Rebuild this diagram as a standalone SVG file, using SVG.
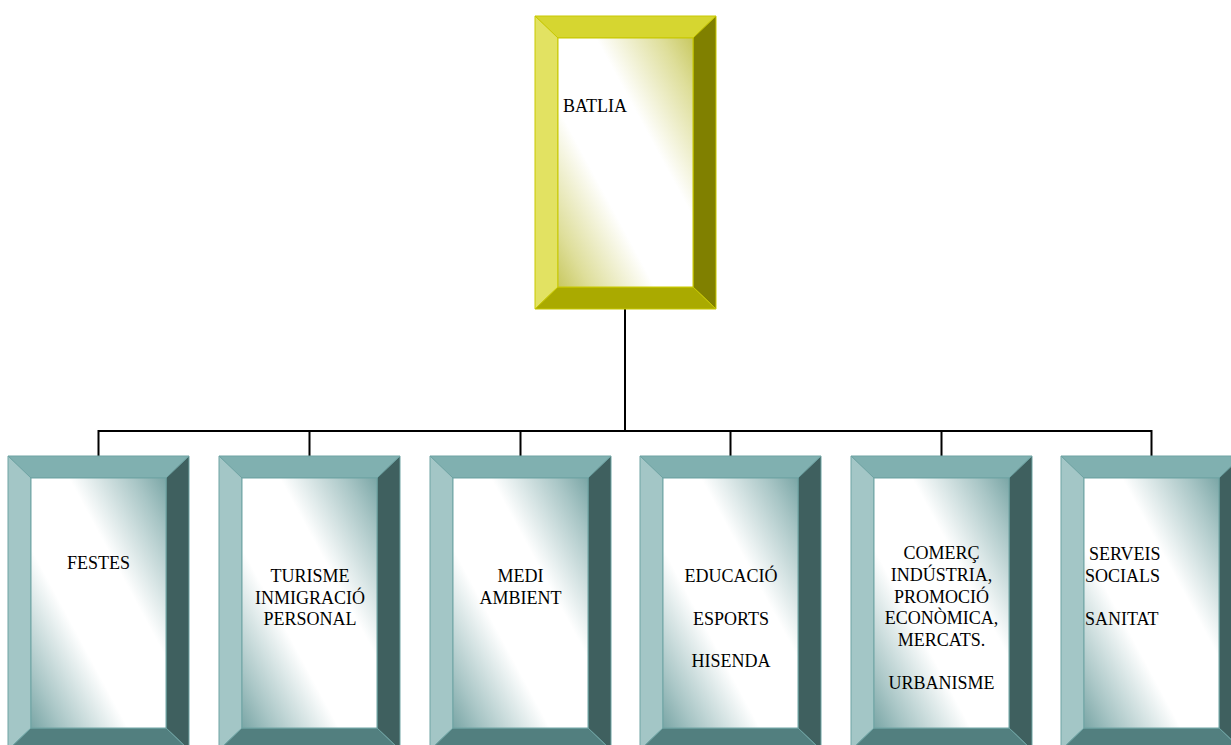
<svg xmlns="http://www.w3.org/2000/svg" xmlns:xlink="http://www.w3.org/1999/xlink" width="1231" height="745" viewBox="0 0 1231 745">
<style>
text{font-family:"Liberation Serif","Times New Roman",serif;font-size:18px;fill:#000}
.c{text-anchor:middle}
.tt{fill:#80b0b0}.tl{fill:#a3c6c6}.tr{fill:#3f605f}.tb{fill:#527f7f}
.yt{fill:#d6d630}.yl{fill:#e2e262}.yr{fill:#808000}.yb{fill:#aaaa00}
.st{stroke:#6ea3a3;stroke-width:1}
.sy{stroke:#c8c800;stroke-width:1}
.conn{stroke:#000;stroke-width:2;fill:none}
</style>
<defs>
<linearGradient id="gT" x1="1" y1="0" x2="0" y2="1">
<stop offset="0" stop-color="#7aa6a6"/>
<stop offset="0.12" stop-color="#a9c6c6"/>
<stop offset="0.36" stop-color="#ffffff"/>
<stop offset="0.64" stop-color="#ffffff"/>
<stop offset="0.88" stop-color="#a9c6c6"/>
<stop offset="1" stop-color="#7aa6a6"/>
</linearGradient>
<linearGradient id="gY" x1="1" y1="0" x2="0" y2="1">
<stop offset="0" stop-color="#c8c860"/>
<stop offset="0.12" stop-color="#dede9a"/>
<stop offset="0.36" stop-color="#ffffff"/>
<stop offset="0.64" stop-color="#ffffff"/>
<stop offset="0.88" stop-color="#dede9a"/>
<stop offset="1" stop-color="#c8c860"/>
</linearGradient>
<g id="frameT" class="st">
<polygon class="tt" points="0,0 181,0 158,22 23,22"/>
<polygon class="tl" points="0,0 23,22 23,272 0,294"/>
<polygon class="tr" points="181,0 181,294 158,272 158,22"/>
<polygon class="tb" points="0,294 181,294 158,272 23,272"/>
<rect x="23" y="22" width="135" height="250" fill="url(#gT)"/>
</g>
<g id="frameY" class="sy">
<polygon class="yt" points="0,0 181,0 158,22 23,22"/>
<polygon class="yl" points="0,0 23,22 23,271 0,293"/>
<polygon class="yr" points="181,0 181,293 158,271 158,22"/>
<polygon class="yb" points="0,293 181,293 158,271 23,271"/>
<rect x="23" y="22" width="135" height="249" fill="url(#gY)"/>
</g>
</defs>
<g id="connectors">
<path class="conn" d="M625,309 V431 M98.5,431 H1151.5 M98.5,430 V456 M309.5,430 V456 M520.5,430 V456 M730.5,430 V456 M941.5,430 V456 M1151.5,430 V456"/>
</g>
<g id="batlia" transform="translate(535,16)">
<use xlink:href="#frameY"/>
<text x="28" y="96">BATLIA</text>
</g>
<g id="festes" transform="translate(8,456)">
<use xlink:href="#frameT"/>
<text class="c" x="90.5" y="113">FESTES</text>
</g>
<g id="turisme" transform="translate(219,456)">
<use xlink:href="#frameT"/>
<text class="c" x="91"><tspan x="91" y="126">TURISME</tspan><tspan x="91" y="147.5">INMIGRACIÓ</tspan><tspan x="91" y="169">PERSONAL</tspan></text>
</g>
<g id="medi" transform="translate(430,456)">
<use xlink:href="#frameT"/>
<text class="c" x="90.5"><tspan x="90.5" y="126">MEDI</tspan><tspan x="90.5" y="147.5">AMBIENT</tspan></text>
</g>
<g id="educacio" transform="translate(640,456)">
<use xlink:href="#frameT"/>
<text class="c" x="91"><tspan x="91" y="126">EDUCACIÓ</tspan><tspan x="91" y="169">ESPORTS</tspan><tspan x="91" y="211">HISENDA</tspan></text>
</g>
<g id="comerc" transform="translate(851,456)">
<use xlink:href="#frameT"/>
<text class="c" x="90.5"><tspan x="90.5" y="102.5">COMERÇ</tspan><tspan x="90.5" y="124.5">INDÚSTRIA,</tspan><tspan x="90.5" y="146.5">PROMOCIÓ</tspan><tspan x="90.5" y="168">ECONÒMICA,</tspan><tspan x="90.5" y="189.5">MERCATS.</tspan><tspan x="90.5" y="232.5">URBANISME</tspan></text>
</g>
<g id="serveis" transform="translate(1061,456)">
<use xlink:href="#frameT"/>
<text><tspan x="28" y="104">SERVEIS</tspan><tspan x="24" y="126">SOCIALS</tspan><tspan x="24" y="169">SANITAT</tspan></text>
</g>
</svg>
